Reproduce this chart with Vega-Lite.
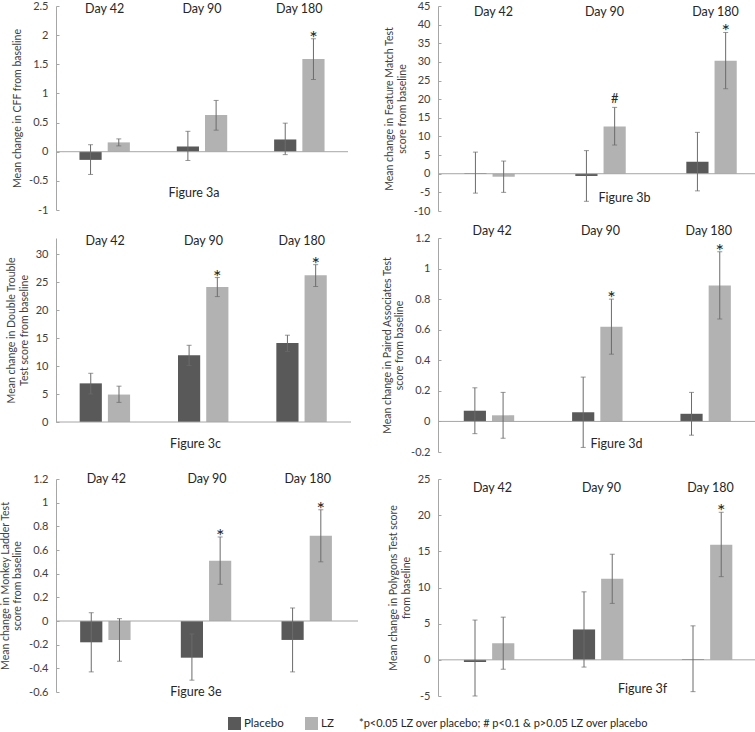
{
  "$schema": "https://vega.github.io/schema/vega-lite/v6.json",
  "padding": {"left": 0, "top": 0, "right": 0, "bottom": 0},
  "bounds": "flush",
  "columns": 2,
  "spacing": {"row": 27, "column": 80},
  "datasets": {
    "a": [
      {"day": "Day 42", "group": "Placebo", "mean": -0.14, "lo": -0.39, "hi": 0.12, "sig": ""},
      {"day": "Day 42", "group": "LZ", "mean": 0.16, "lo": 0.10, "hi": 0.22, "sig": ""},
      {"day": "Day 90", "group": "Placebo", "mean": 0.09, "lo": -0.15, "hi": 0.35, "sig": ""},
      {"day": "Day 90", "group": "LZ", "mean": 0.63, "lo": 0.37, "hi": 0.88, "sig": ""},
      {"day": "Day 180", "group": "Placebo", "mean": 0.21, "lo": -0.05, "hi": 0.49, "sig": ""},
      {"day": "Day 180", "group": "LZ", "mean": 1.59, "lo": 1.24, "hi": 1.94, "sig": "*"}
    ],
    "b": [
      {"day": "Day 42", "group": "Placebo", "mean": 0.2, "lo": -5.2, "hi": 5.8, "sig": ""},
      {"day": "Day 42", "group": "LZ", "mean": -0.8, "lo": -5.0, "hi": 3.4, "sig": ""},
      {"day": "Day 90", "group": "Placebo", "mean": -0.6, "lo": -7.4, "hi": 6.2, "sig": ""},
      {"day": "Day 90", "group": "LZ", "mean": 12.7, "lo": 7.7, "hi": 17.8, "sig": "#"},
      {"day": "Day 180", "group": "Placebo", "mean": 3.2, "lo": -4.6, "hi": 11.1, "sig": ""},
      {"day": "Day 180", "group": "LZ", "mean": 30.3, "lo": 22.8, "hi": 37.9, "sig": "*"}
    ],
    "c": [
      {"day": "Day 42", "group": "Placebo", "mean": 6.9, "lo": 5.0, "hi": 8.7, "sig": ""},
      {"day": "Day 42", "group": "LZ", "mean": 4.9, "lo": 3.5, "hi": 6.4, "sig": ""},
      {"day": "Day 90", "group": "Placebo", "mean": 11.9, "lo": 10.1, "hi": 13.7, "sig": ""},
      {"day": "Day 90", "group": "LZ", "mean": 24.1, "lo": 22.4, "hi": 25.8, "sig": "*"},
      {"day": "Day 180", "group": "Placebo", "mean": 14.1, "lo": 12.6, "hi": 15.5, "sig": ""},
      {"day": "Day 180", "group": "LZ", "mean": 26.2, "lo": 24.2, "hi": 28.1, "sig": "*"}
    ],
    "d": [
      {"day": "Day 42", "group": "Placebo", "mean": 0.07, "lo": -0.08, "hi": 0.22, "sig": ""},
      {"day": "Day 42", "group": "LZ", "mean": 0.04, "lo": -0.11, "hi": 0.19, "sig": ""},
      {"day": "Day 90", "group": "Placebo", "mean": 0.06, "lo": -0.17, "hi": 0.29, "sig": ""},
      {"day": "Day 90", "group": "LZ", "mean": 0.62, "lo": 0.44, "hi": 0.80, "sig": "*"},
      {"day": "Day 180", "group": "Placebo", "mean": 0.05, "lo": -0.09, "hi": 0.19, "sig": ""},
      {"day": "Day 180", "group": "LZ", "mean": 0.89, "lo": 0.67, "hi": 1.11, "sig": "*"}
    ],
    "e": [
      {"day": "Day 42", "group": "Placebo", "mean": -0.18, "lo": -0.43, "hi": 0.07, "sig": ""},
      {"day": "Day 42", "group": "LZ", "mean": -0.16, "lo": -0.34, "hi": 0.02, "sig": ""},
      {"day": "Day 90", "group": "Placebo", "mean": -0.31, "lo": -0.50, "hi": -0.11, "sig": ""},
      {"day": "Day 90", "group": "LZ", "mean": 0.51, "lo": 0.31, "hi": 0.71, "sig": "*"},
      {"day": "Day 180", "group": "Placebo", "mean": -0.16, "lo": -0.43, "hi": 0.11, "sig": ""},
      {"day": "Day 180", "group": "LZ", "mean": 0.72, "lo": 0.50, "hi": 0.94, "sig": "*"}
    ],
    "f": [
      {"day": "Day 42", "group": "Placebo", "mean": -0.3, "lo": -5.0, "hi": 5.5, "sig": ""},
      {"day": "Day 42", "group": "LZ", "mean": 2.3, "lo": -1.3, "hi": 5.9, "sig": ""},
      {"day": "Day 90", "group": "Placebo", "mean": 4.2, "lo": -1.0, "hi": 9.4, "sig": ""},
      {"day": "Day 90", "group": "LZ", "mean": 11.2, "lo": 7.8, "hi": 14.6, "sig": ""},
      {"day": "Day 180", "group": "Placebo", "mean": 0.1, "lo": -4.4, "hi": 4.7, "sig": ""},
      {"day": "Day 180", "group": "LZ", "mean": 15.9, "lo": 11.5, "hi": 20.4, "sig": "*"}
    ]
  },
  "concat": [
    {
      "width": 292, "height": 204,
      "data": {"name": "a"},
      "layer": [
        {"mark": {"type": "bar"}, "encoding": {
          "x": {"field": "day", "type": "nominal", "sort": ["Day 42", "Day 90", "Day 180"], "scale": {"paddingInner": 0.42, "paddingOuter": 0.21}, "axis": {"orient": "top", "labelPadding": -9, "title": null}},
          "xOffset": {"field": "group", "type": "nominal", "sort": ["Placebo", "LZ"], "scale": {"paddingInner": 0.214, "paddingOuter": 0.107}},
          "y": {"field": "mean", "type": "quantitative", "scale": {"domain": [-1, 2.5], "nice": false, "zero": false}, "axis": {"values": [-1, -0.5, 0, 0.5, 1, 1.5, 2, 2.5], "tickCount": 30, "labelOverlap": false, "title": "Mean change in CFF from baseline"}},
          "color": {"field": "group", "type": "nominal", "sort": ["Placebo", "LZ"], "scale": {"domain": ["Placebo", "LZ"], "range": ["#595959", "#b2b2b2"]}, "legend": {"title": "*p<0.05 LZ over placebo; # p<0.1 & p>0.05 LZ over placebo"}}
        }},
        {"data": {"values": [{}]}, "mark": {"type": "rule", "color": "#a6a6a6"}, "encoding": {"y": {"datum": 0, "type": "quantitative"}}},
        {"mark": {"type": "rule", "color": "#6b6b6b"}, "encoding": {"x": {"field": "day", "type": "nominal", "sort": ["Day 42", "Day 90", "Day 180"]}, "xOffset": {"field": "group", "type": "nominal", "sort": ["Placebo", "LZ"]}, "y": {"field": "lo", "type": "quantitative"}, "y2": {"field": "hi"}}},
        {"mark": {"type": "tick", "color": "#6b6b6b", "size": 5, "thickness": 1}, "encoding": {"x": {"field": "day", "type": "nominal", "sort": ["Day 42", "Day 90", "Day 180"]}, "xOffset": {"field": "group", "type": "nominal", "sort": ["Placebo", "LZ"]}, "y": {"field": "lo", "type": "quantitative"}}},
        {"mark": {"type": "tick", "color": "#6b6b6b", "size": 5, "thickness": 1}, "encoding": {"x": {"field": "day", "type": "nominal", "sort": ["Day 42", "Day 90", "Day 180"]}, "xOffset": {"field": "group", "type": "nominal", "sort": ["Placebo", "LZ"]}, "y": {"field": "hi", "type": "quantitative"}}},
        {"transform": [{"filter": "datum.sig == '*'"}], "mark": {"type": "text", "fontSize": 20, "baseline": "alphabetic", "dy": 6, "color": "#262626"}, "encoding": {"x": {"field": "day", "type": "nominal", "sort": ["Day 42", "Day 90", "Day 180"]}, "xOffset": {"field": "group", "type": "nominal", "sort": ["Placebo", "LZ"]}, "y": {"field": "hi", "type": "quantitative"}, "text": {"field": "sig"}}},
        {"data": {"values": [{"label": "Figure 3a"}]}, "mark": {"type": "text", "fontSize": 12.5, "dx": -8, "color": "#262626"}, "encoding": {"x": {"datum": "Day 90"}, "y": {"datum": -0.7, "type": "quantitative"}, "text": {"field": "label"}}}
      ]
    },
    {
      "width": 333, "height": 205,
      "data": {"name": "b"},
      "layer": [
        {"mark": {"type": "bar"}, "encoding": {
          "x": {"field": "day", "type": "nominal", "sort": ["Day 42", "Day 90", "Day 180"], "scale": {"paddingInner": 0.42, "paddingOuter": 0.21}, "axis": {"orient": "top", "labelPadding": -12, "title": null}},
          "xOffset": {"field": "group", "type": "nominal", "sort": ["Placebo", "LZ"], "scale": {"paddingInner": 0.214, "paddingOuter": 0.107}},
          "y": {"field": "mean", "type": "quantitative", "scale": {"domain": [-10, 45], "nice": false, "zero": false}, "axis": {"values": [-10, -5, 0, 5, 10, 15, 20, 25, 30, 35, 40, 45], "tickCount": 30, "labelOverlap": false, "title": ["Mean change in Feature Match Test", "score from baseline"]}},
          "color": {"field": "group", "type": "nominal", "sort": ["Placebo", "LZ"], "scale": {"domain": ["Placebo", "LZ"], "range": ["#595959", "#b2b2b2"]}, "legend": {"title": "*p<0.05 LZ over placebo; # p<0.1 & p>0.05 LZ over placebo"}}
        }},
        {"data": {"values": [{}]}, "mark": {"type": "rule", "color": "#a6a6a6"}, "encoding": {"y": {"datum": 0, "type": "quantitative"}}},
        {"mark": {"type": "rule", "color": "#6b6b6b"}, "encoding": {"x": {"field": "day", "type": "nominal", "sort": ["Day 42", "Day 90", "Day 180"]}, "xOffset": {"field": "group", "type": "nominal", "sort": ["Placebo", "LZ"]}, "y": {"field": "lo", "type": "quantitative"}, "y2": {"field": "hi"}}},
        {"mark": {"type": "tick", "color": "#6b6b6b", "size": 5, "thickness": 1}, "encoding": {"x": {"field": "day", "type": "nominal", "sort": ["Day 42", "Day 90", "Day 180"]}, "xOffset": {"field": "group", "type": "nominal", "sort": ["Placebo", "LZ"]}, "y": {"field": "lo", "type": "quantitative"}}},
        {"mark": {"type": "tick", "color": "#6b6b6b", "size": 5, "thickness": 1}, "encoding": {"x": {"field": "day", "type": "nominal", "sort": ["Day 42", "Day 90", "Day 180"]}, "xOffset": {"field": "group", "type": "nominal", "sort": ["Placebo", "LZ"]}, "y": {"field": "hi", "type": "quantitative"}}},
        {"transform": [{"filter": "datum.sig == '*'"}], "mark": {"type": "text", "fontSize": 20, "baseline": "alphabetic", "dy": 6, "color": "#262626"}, "encoding": {"x": {"field": "day", "type": "nominal", "sort": ["Day 42", "Day 90", "Day 180"]}, "xOffset": {"field": "group", "type": "nominal", "sort": ["Placebo", "LZ"]}, "y": {"field": "hi", "type": "quantitative"}, "text": {"field": "sig"}}},
        {"transform": [{"filter": "datum.sig == '#'"}], "mark": {"type": "text", "fontSize": 13, "baseline": "alphabetic", "dy": -4, "color": "#262626"}, "encoding": {"x": {"field": "day", "type": "nominal", "sort": ["Day 42", "Day 90", "Day 180"]}, "xOffset": {"field": "group", "type": "nominal", "sort": ["Placebo", "LZ"]}, "y": {"field": "hi", "type": "quantitative"}, "text": {"field": "sig"}}},
        {"data": {"values": [{"label": "Figure 3b"}]}, "mark": {"type": "text", "fontSize": 12.5, "dx": 20, "color": "#262626"}, "encoding": {"x": {"datum": "Day 90"}, "y": {"datum": -6.5, "type": "quantitative"}, "text": {"field": "label"}}}
      ]
    },
    {
      "width": 295, "height": 184,
      "data": {"name": "c"},
      "layer": [
        {"mark": {"type": "bar"}, "encoding": {
          "x": {"field": "day", "type": "nominal", "sort": ["Day 42", "Day 90", "Day 180"], "scale": {"paddingInner": 0.42, "paddingOuter": 0.21}, "axis": {"orient": "top", "labelPadding": -9, "title": null}},
          "xOffset": {"field": "group", "type": "nominal", "sort": ["Placebo", "LZ"], "scale": {"paddingInner": 0.214, "paddingOuter": 0.107}},
          "y": {"field": "mean", "type": "quantitative", "scale": {"domain": [0, 32.86], "nice": false, "zero": false}, "axis": {"values": [0, 5, 10, 15, 20, 25, 30], "tickCount": 30, "labelOverlap": false, "title": ["Mean change in Double Trouble", "Test score from baseline"]}},
          "color": {"field": "group", "type": "nominal", "sort": ["Placebo", "LZ"], "scale": {"domain": ["Placebo", "LZ"], "range": ["#595959", "#b2b2b2"]}, "legend": {"title": "*p<0.05 LZ over placebo; # p<0.1 & p>0.05 LZ over placebo"}}
        }},
        {"data": {"values": [{}]}, "mark": {"type": "rule", "color": "#a6a6a6"}, "encoding": {"y": {"datum": 0, "type": "quantitative"}}},
        {"mark": {"type": "rule", "color": "#6b6b6b"}, "encoding": {"x": {"field": "day", "type": "nominal", "sort": ["Day 42", "Day 90", "Day 180"]}, "xOffset": {"field": "group", "type": "nominal", "sort": ["Placebo", "LZ"]}, "y": {"field": "lo", "type": "quantitative"}, "y2": {"field": "hi"}}},
        {"mark": {"type": "tick", "color": "#6b6b6b", "size": 5, "thickness": 1}, "encoding": {"x": {"field": "day", "type": "nominal", "sort": ["Day 42", "Day 90", "Day 180"]}, "xOffset": {"field": "group", "type": "nominal", "sort": ["Placebo", "LZ"]}, "y": {"field": "lo", "type": "quantitative"}}},
        {"mark": {"type": "tick", "color": "#6b6b6b", "size": 5, "thickness": 1}, "encoding": {"x": {"field": "day", "type": "nominal", "sort": ["Day 42", "Day 90", "Day 180"]}, "xOffset": {"field": "group", "type": "nominal", "sort": ["Placebo", "LZ"]}, "y": {"field": "hi", "type": "quantitative"}}},
        {"transform": [{"filter": "datum.sig == '*'"}], "mark": {"type": "text", "fontSize": 20, "baseline": "alphabetic", "dy": 6, "color": "#262626"}, "encoding": {"x": {"field": "day", "type": "nominal", "sort": ["Day 42", "Day 90", "Day 180"]}, "xOffset": {"field": "group", "type": "nominal", "sort": ["Placebo", "LZ"]}, "y": {"field": "hi", "type": "quantitative"}, "text": {"field": "sig"}}},
        {"data": {"values": [{"label": "Figure 3c"}]}, "mark": {"type": "text", "fontSize": 12.5, "dx": -8, "color": "#262626"}, "encoding": {"x": {"datum": "Day 90"}, "y": {"datum": -4, "type": "quantitative"}, "text": {"field": "label"}}}
      ]
    },
    {
      "width": 325, "height": 214,
      "data": {"name": "d"},
      "layer": [
        {"mark": {"type": "bar"}, "encoding": {
          "x": {"field": "day", "type": "nominal", "sort": ["Day 42", "Day 90", "Day 180"], "scale": {"paddingInner": 0.42, "paddingOuter": 0.21}, "axis": {"orient": "top", "labelPadding": 1, "title": null}},
          "xOffset": {"field": "group", "type": "nominal", "sort": ["Placebo", "LZ"], "scale": {"paddingInner": 0.214, "paddingOuter": 0.107}},
          "y": {"field": "mean", "type": "quantitative", "scale": {"domain": [-0.2, 1.2], "nice": false, "zero": false}, "axis": {"values": [-0.2, 0, 0.2, 0.4, 0.6, 0.8, 1, 1.2], "tickCount": 30, "labelOverlap": false, "title": ["Mean change in Paired Associates Test", "score from baseline"]}},
          "color": {"field": "group", "type": "nominal", "sort": ["Placebo", "LZ"], "scale": {"domain": ["Placebo", "LZ"], "range": ["#595959", "#b2b2b2"]}, "legend": {"title": "*p<0.05 LZ over placebo; # p<0.1 & p>0.05 LZ over placebo"}}
        }},
        {"data": {"values": [{}]}, "mark": {"type": "rule", "color": "#a6a6a6"}, "encoding": {"y": {"datum": 0, "type": "quantitative"}}},
        {"mark": {"type": "rule", "color": "#6b6b6b"}, "encoding": {"x": {"field": "day", "type": "nominal", "sort": ["Day 42", "Day 90", "Day 180"]}, "xOffset": {"field": "group", "type": "nominal", "sort": ["Placebo", "LZ"]}, "y": {"field": "lo", "type": "quantitative"}, "y2": {"field": "hi"}}},
        {"mark": {"type": "tick", "color": "#6b6b6b", "size": 5, "thickness": 1}, "encoding": {"x": {"field": "day", "type": "nominal", "sort": ["Day 42", "Day 90", "Day 180"]}, "xOffset": {"field": "group", "type": "nominal", "sort": ["Placebo", "LZ"]}, "y": {"field": "lo", "type": "quantitative"}}},
        {"mark": {"type": "tick", "color": "#6b6b6b", "size": 5, "thickness": 1}, "encoding": {"x": {"field": "day", "type": "nominal", "sort": ["Day 42", "Day 90", "Day 180"]}, "xOffset": {"field": "group", "type": "nominal", "sort": ["Placebo", "LZ"]}, "y": {"field": "hi", "type": "quantitative"}}},
        {"transform": [{"filter": "datum.sig == '*'"}], "mark": {"type": "text", "fontSize": 20, "baseline": "alphabetic", "dy": 6, "color": "#262626"}, "encoding": {"x": {"field": "day", "type": "nominal", "sort": ["Day 42", "Day 90", "Day 180"]}, "xOffset": {"field": "group", "type": "nominal", "sort": ["Placebo", "LZ"]}, "y": {"field": "hi", "type": "quantitative"}, "text": {"field": "sig"}}},
        {"data": {"values": [{"label": "Figure 3d"}]}, "mark": {"type": "text", "fontSize": 12.5, "dx": 16, "color": "#262626"}, "encoding": {"x": {"datum": "Day 90"}, "y": {"datum": -0.148, "type": "quantitative"}, "text": {"field": "label"}}}
      ]
    },
    {
      "width": 302, "height": 213,
      "data": {"name": "e"},
      "layer": [
        {"mark": {"type": "bar"}, "encoding": {
          "x": {"field": "day", "type": "nominal", "sort": ["Day 42", "Day 90", "Day 180"], "scale": {"paddingInner": 0.42, "paddingOuter": 0.21}, "axis": {"orient": "top", "labelPadding": -6, "title": null}},
          "xOffset": {"field": "group", "type": "nominal", "sort": ["Placebo", "LZ"], "scale": {"paddingInner": 0.214, "paddingOuter": 0.107}},
          "y": {"field": "mean", "type": "quantitative", "scale": {"domain": [-0.6, 1.2], "nice": false, "zero": false}, "axis": {"values": [-0.6, -0.4, -0.2, 0, 0.2, 0.4, 0.6, 0.8, 1, 1.2], "tickCount": 30, "labelOverlap": false, "title": ["Mean change in Monkey Ladder Test", "score from baseline"]}},
          "color": {"field": "group", "type": "nominal", "sort": ["Placebo", "LZ"], "scale": {"domain": ["Placebo", "LZ"], "range": ["#595959", "#b2b2b2"]}, "legend": {"title": "*p<0.05 LZ over placebo; # p<0.1 & p>0.05 LZ over placebo"}}
        }},
        {"data": {"values": [{}]}, "mark": {"type": "rule", "color": "#a6a6a6"}, "encoding": {"y": {"datum": 0, "type": "quantitative"}}},
        {"mark": {"type": "rule", "color": "#6b6b6b"}, "encoding": {"x": {"field": "day", "type": "nominal", "sort": ["Day 42", "Day 90", "Day 180"]}, "xOffset": {"field": "group", "type": "nominal", "sort": ["Placebo", "LZ"]}, "y": {"field": "lo", "type": "quantitative"}, "y2": {"field": "hi"}}},
        {"mark": {"type": "tick", "color": "#6b6b6b", "size": 5, "thickness": 1}, "encoding": {"x": {"field": "day", "type": "nominal", "sort": ["Day 42", "Day 90", "Day 180"]}, "xOffset": {"field": "group", "type": "nominal", "sort": ["Placebo", "LZ"]}, "y": {"field": "lo", "type": "quantitative"}}},
        {"mark": {"type": "tick", "color": "#6b6b6b", "size": 5, "thickness": 1}, "encoding": {"x": {"field": "day", "type": "nominal", "sort": ["Day 42", "Day 90", "Day 180"]}, "xOffset": {"field": "group", "type": "nominal", "sort": ["Placebo", "LZ"]}, "y": {"field": "hi", "type": "quantitative"}}},
        {"transform": [{"filter": "datum.sig == '*'"}], "mark": {"type": "text", "fontSize": 20, "baseline": "alphabetic", "dy": 6, "color": "#262626"}, "encoding": {"x": {"field": "day", "type": "nominal", "sort": ["Day 42", "Day 90", "Day 180"]}, "xOffset": {"field": "group", "type": "nominal", "sort": ["Placebo", "LZ"]}, "y": {"field": "hi", "type": "quantitative"}, "text": {"field": "sig"}}},
        {"data": {"values": [{"label": "Figure 3e"}]}, "mark": {"type": "text", "fontSize": 12.5, "dx": -11, "color": "#262626"}, "encoding": {"x": {"datum": "Day 90"}, "y": {"datum": -0.6, "type": "quantitative"}, "text": {"field": "label"}}}
      ]
    },
    {
      "width": 327, "height": 217,
      "data": {"name": "f"},
      "layer": [
        {"mark": {"type": "bar"}, "encoding": {
          "x": {"field": "day", "type": "nominal", "sort": ["Day 42", "Day 90", "Day 180"], "scale": {"paddingInner": 0.42, "paddingOuter": 0.21}, "axis": {"orient": "top", "labelPadding": -15, "title": null}},
          "xOffset": {"field": "group", "type": "nominal", "sort": ["Placebo", "LZ"], "scale": {"paddingInner": 0.214, "paddingOuter": 0.107}},
          "y": {"field": "mean", "type": "quantitative", "scale": {"domain": [-5, 25], "nice": false, "zero": false}, "axis": {"values": [-5, 0, 5, 10, 15, 20, 25], "tickCount": 30, "labelOverlap": false, "title": ["Mean change in Polygons Test  score", "from baseline"]}},
          "color": {"field": "group", "type": "nominal", "sort": ["Placebo", "LZ"], "scale": {"domain": ["Placebo", "LZ"], "range": ["#595959", "#b2b2b2"]}, "legend": {"title": "*p<0.05 LZ over placebo; # p<0.1 & p>0.05 LZ over placebo"}}
        }},
        {"data": {"values": [{}]}, "mark": {"type": "rule", "color": "#a6a6a6"}, "encoding": {"y": {"datum": 0, "type": "quantitative"}}},
        {"mark": {"type": "rule", "color": "#6b6b6b"}, "encoding": {"x": {"field": "day", "type": "nominal", "sort": ["Day 42", "Day 90", "Day 180"]}, "xOffset": {"field": "group", "type": "nominal", "sort": ["Placebo", "LZ"]}, "y": {"field": "lo", "type": "quantitative"}, "y2": {"field": "hi"}}},
        {"mark": {"type": "tick", "color": "#6b6b6b", "size": 5, "thickness": 1}, "encoding": {"x": {"field": "day", "type": "nominal", "sort": ["Day 42", "Day 90", "Day 180"]}, "xOffset": {"field": "group", "type": "nominal", "sort": ["Placebo", "LZ"]}, "y": {"field": "lo", "type": "quantitative"}}},
        {"mark": {"type": "tick", "color": "#6b6b6b", "size": 5, "thickness": 1}, "encoding": {"x": {"field": "day", "type": "nominal", "sort": ["Day 42", "Day 90", "Day 180"]}, "xOffset": {"field": "group", "type": "nominal", "sort": ["Placebo", "LZ"]}, "y": {"field": "hi", "type": "quantitative"}}},
        {"transform": [{"filter": "datum.sig == '*'"}], "mark": {"type": "text", "fontSize": 20, "baseline": "alphabetic", "dy": 6, "color": "#262626"}, "encoding": {"x": {"field": "day", "type": "nominal", "sort": ["Day 42", "Day 90", "Day 180"]}, "xOffset": {"field": "group", "type": "nominal", "sort": ["Placebo", "LZ"]}, "y": {"field": "hi", "type": "quantitative"}, "text": {"field": "sig"}}},
        {"data": {"values": [{"label": "Figure 3f"}]}, "mark": {"type": "text", "fontSize": 12.5, "dx": 41, "color": "#262626"}, "encoding": {"x": {"datum": "Day 90"}, "y": {"datum": -4, "type": "quantitative"}, "text": {"field": "label"}}}
      ]
    }
  ],
  "config": {
    "font": "Lato",
    "view": {"stroke": null},
    "axisY": {
      "grid": false,
      "domainColor": "#a6a6a6",
      "tickColor": "#a6a6a6",
      "tickSize": -3,
      "labelPadding": 11,
      "labelOverlap": false,
      "labelFontSize": 11,
      "labelColor": "#404040",
      "labelExpr": "datum.value < 0 ? '-' + format(-datum.value, '~g') : format(datum.value, '~g')",
      "titleFontSize": 10.5,
      "titleFontWeight": "normal",
      "titleColor": "#404040",
      "titlePadding": 6
    },
    "axisX": {
      "domain": false,
      "ticks": false,
      "tickSize": 0,
      "grid": false,
      "labelAngle": 0,
      "labelFontSize": 12.5,
      "labelColor": "#262626"
    },
    "legend": {
      "orient": "none",
      "legendX": 172,
      "legendY": 711,
      "direction": "horizontal",
      "symbolType": "square",
      "symbolSize": 169,
      "symbolStrokeWidth": 0,
      "symbolOpacity": 1,
      "labelFontSize": 11.5,
      "labelColor": "#262626",
      "labelOffset": 3,
      "columnPadding": 21,
      "titleOrient": "right",
      "titlePadding": 25,
      "titleFontSize": 11,
      "titleFontWeight": "normal",
      "titleColor": "#262626",
      "titleLimit": 400
    }
  }
}
